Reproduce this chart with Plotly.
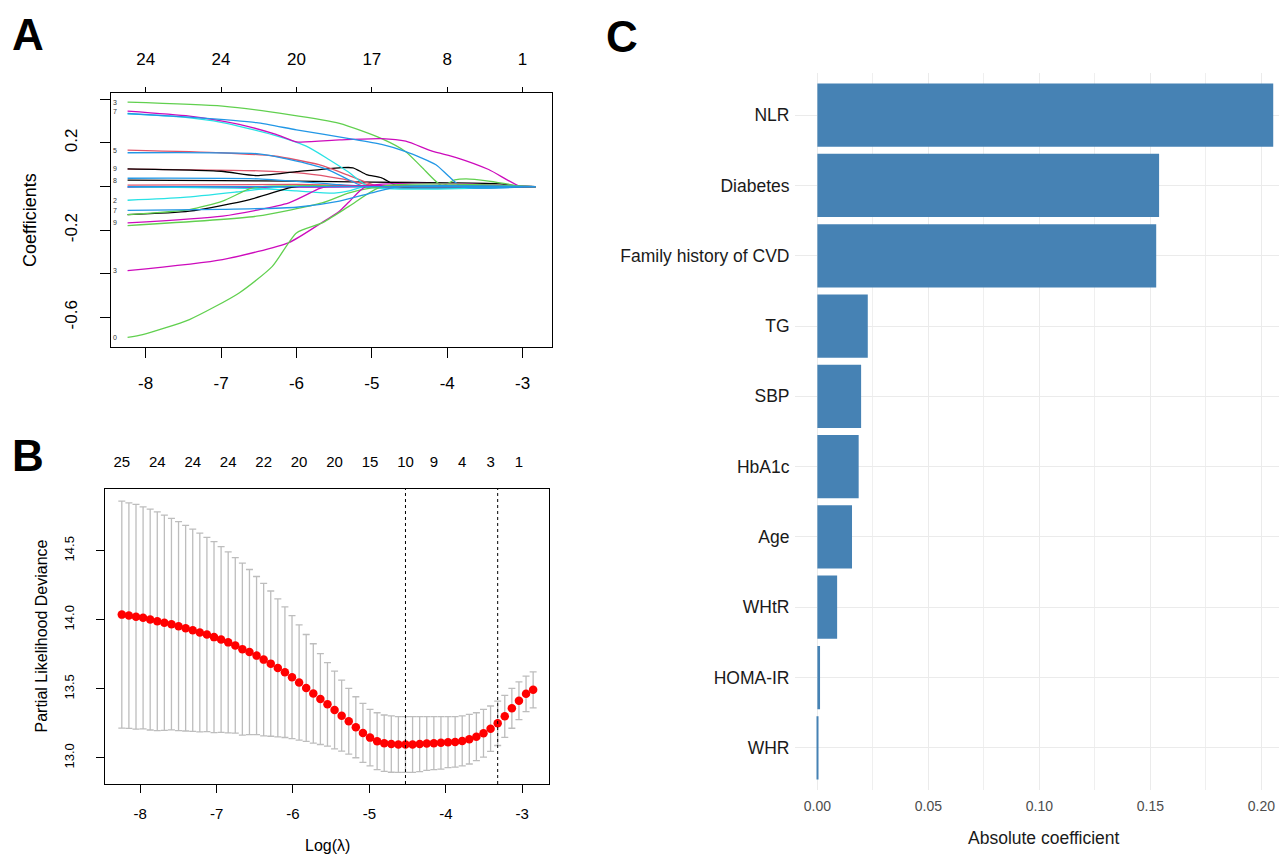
import plotly.graph_objects as go

PAGE_W, PAGE_H = 1287, 854
OFF = 8  # default body margin of the html page
W, H = PAGE_W - OFF, PAGE_H - OFF
FONT = "Liberation Sans, Arial, Helvetica, sans-serif"

# ---------------- Panel A: coefficient paths ----------------
A_TICKS = [-8, -7, -6, -5, -4, -3]
A_TICK_TEXT = ["-8", "-7", "-6", "-5", "-4", "-3"]
A_TOP_DF = ["24", "24", "20", "17", "8", "1"]
A_Y_TICKS = [0.4, 0.2, 0.0, -0.2, -0.4, -0.6]
A_Y_TEXT = ["", "0.2", "", "-0.2", "", "-0.6"]

R_BLACK, R_RED, R_GREEN, R_BLUE, R_CYAN, R_MAG = "#000000", "#DF536B", "#61D04F", "#2297E6", "#28E2E5", "#CD0BBC"

paths = [
    # (color, label, log-lambda points, coefficient values)
    (R_MAG, "", [-8.24, -5.5, -5.0, -2.83], [-0.004, -0.003, 0.0, 0.0]),
    (R_RED, "", [-8.24, -6.0, -5.2, -4.8, -2.83], [0.006, 0.010, 0.004, 0.0, 0.0]),
    (R_CYAN, "", [-8.24, -6.5, -6.0, -5.5, -5.3, -5.1, -2.83], [-0.002, -0.010, -0.020, -0.030, -0.020, 0.0, 0.0]),
    (R_BLACK, "8", [-8.24, -7.0, -6.0, -5.0, -4.0, -3.3, -3.03, -2.83], [0.029, 0.027, 0.025, 0.020, 0.017, 0.012, 0.0, 0.0]),
    (R_BLUE, "", [-8.24, -6.5, -5.5, -5.0, -2.83], [0.038, 0.035, 0.010, 0.0, 0.0]),
    (R_RED, "", [-8.24, -6.5, -5.9, -5.4, -4.9, -2.83], [0.080, 0.072, 0.060, 0.035, 0.0, 0.0]),
    (R_BLACK, "9", [-8.24, -7.0, -6.53, -6.0, -5.43, -5.25, -5.07, -4.87, -4.64, -2.83],
     [0.081, 0.070, 0.050, 0.068, 0.086, 0.086, 0.055, 0.040, 0.0, 0.0]),
    (R_RED, "5", [-8.24, -7.0, -6.3, -5.7, -5.3, -4.9, -2.83], [0.167, 0.155, 0.140, 0.100, 0.050, 0.0, 0.0]),
    (R_BLUE, "", [-8.24, -6.5, -6.1, -5.6, -5.3, -5.1, -2.83], [0.155, 0.150, 0.125, 0.080, 0.030, 0.0, 0.0]),
    (R_CYAN, "", [-8.24, -7.5, -6.98, -6.32, -5.87, -5.57, -5.30, -5.04, -2.83],
     [0.333, 0.318, 0.293, 0.238, 0.185, 0.124, 0.064, 0.0, 0.0]),
    (R_GREEN, "3", [-8.24, -6.98, -6.10, -5.43, -4.87, -4.55, -4.34, -4.07, -3.9, -3.75, -3.45, -3.1, -3.03, -2.83],
     [0.387, 0.369, 0.330, 0.290, 0.220, 0.160, 0.090, 0.004, 0.030, 0.035, 0.025, 0.005, 0.0, 0.0]),
    (R_MAG, "7", [-8.24, -7.42, -6.76, -6.27, -6.0, -5.43, -4.87, -4.55, -4.20, -3.88, -3.45, -3.03, -2.83],
     [0.346, 0.323, 0.285, 0.239, 0.205, 0.214, 0.220, 0.208, 0.162, 0.133, 0.078, 0.0, 0.0]),
    (R_BLUE, "", [-8.24, -7.42, -6.53, -6.0, -5.30, -4.87, -4.55, -4.15, -3.98, -3.81, -2.83],
     [0.335, 0.318, 0.293, 0.260, 0.220, 0.193, 0.160, 0.100, 0.047, 0.0, 0.0]),
    (R_CYAN, "2", [-8.24, -7.5, -6.8, -6.3, -6.1, -2.83], [-0.063, -0.050, -0.025, -0.005, 0.0, 0.0]),
    (R_BLACK, "", [-8.24, -7.42, -6.62, -6.1, -6.0, -2.83], [-0.129, -0.113, -0.060, -0.006, 0.0, 0.0]),
    (R_GREEN, "", [-8.24, -7.42, -6.98, -6.62, -6.45, -2.83], [-0.129, -0.106, -0.067, -0.010, 0.0, 0.0]),
    (R_MAG, "9", [-8.24, -6.98, -6.10, -5.7, -5.6, -2.83], [-0.167, -0.136, -0.075, -0.010, 0.0, 0.0]),
    (R_GREEN, "", [-8.24, -6.53, -5.66, -5.30, -4.87, -2.83], [-0.179, -0.136, -0.075, -0.029, 0.0, 0.0]),
    (R_MAG, "3", [-8.24, -6.98, -6.10, -5.67, -5.43, -5.3, -5.08, -2.83],
     [-0.386, -0.335, -0.257, -0.167, -0.113, -0.070, 0.0, 0.0]),
    (R_GREEN, "0", [-8.24, -8.04, -7.42, -6.76, -6.32, -6.0, -5.66, -5.30, -4.87, -2.83],
     [-0.692, -0.679, -0.610, -0.488, -0.366, -0.213, -0.167, -0.090, 0.0, 0.0]),
    (R_BLUE, "7", [-8.24, -7.0, -6.0, -5.43, -5.0, -4.64, -2.83], [-0.109, -0.105, -0.095, -0.067, -0.029, 0.0, 0.0]),
    (R_BLUE, "", [-8.24, -6.0, -4.6, -2.83], [0.0, 0.0, 0.0, 0.0]),
]

# ---------------- Panel B: cross-validation curve ----------------
B_LAMBDA_START = -8.24
B_LAMBDA_STEP = 0.0928
B_MEAN = [14.037, 14.030, 14.021, 14.014, 14.001, 13.989, 13.978, 13.968, 13.953, 13.939,
          13.924, 13.908, 13.893, 13.874, 13.857, 13.836, 13.814, 13.787, 13.766, 13.740,
          13.711, 13.682, 13.651, 13.620, 13.584, 13.545, 13.506, 13.466, 13.425, 13.387,
          13.346, 13.305, 13.264, 13.221, 13.180, 13.146, 13.120, 13.106, 13.099, 13.096,
          13.096, 13.096, 13.099, 13.103, 13.106, 13.108, 13.113, 13.115, 13.122, 13.135,
          13.153, 13.178, 13.211, 13.250, 13.300, 13.358, 13.413, 13.463, 13.492]
B_UPPER = [14.859, 14.847, 14.835, 14.818, 14.801, 14.782, 14.758, 14.734, 14.710, 14.684,
           14.657, 14.628, 14.597, 14.566, 14.530, 14.491, 14.450, 14.410, 14.364, 14.313,
           14.263, 14.208, 14.151, 14.093, 14.030, 13.962, 13.893, 13.826, 13.754, 13.689,
           13.627, 13.562, 13.502, 13.442, 13.394, 13.351, 13.326, 13.310, 13.303, 13.298,
           13.298, 13.298, 13.298, 13.298, 13.298, 13.298, 13.298, 13.298, 13.303, 13.315,
           13.326, 13.351, 13.375, 13.411, 13.452, 13.502, 13.550, 13.591, 13.622]
B_IDX_MIN = 40
B_IDX_1SE = 53
B_TOP_IDX = [0, 5, 10, 15, 20, 25, 30, 35, 40, 44, 48, 52, 56]
B_TOP_DF = ["25", "24", "24", "24", "22", "20", "20", "15", "10", "9", "4", "3", "1"]
B_Y_TICKS = [13.0, 13.5, 14.0, 14.5]
B_Y_TEXT = ["13.0", "13.5", "14.0", "14.5"]

B_LAMBDA = [B_LAMBDA_START + i * B_LAMBDA_STEP for i in range(len(B_MEAN))]
B_SE = [u - m for u, m in zip(B_UPPER, B_MEAN)]

# ---------------- Panel C: absolute coefficients ----------------
C_VARS = ["NLR", "Diabetes", "Family history of CVD", "TG", "SBP", "HbA1c", "Age", "WHtR", "HOMA-IR", "WHR"]
C_VALUES = [0.2053, 0.1539, 0.1526, 0.0227, 0.0197, 0.0186, 0.0156, 0.0089, 0.0012, 0.0001]
C_TICKS = [0.0, 0.05, 0.10, 0.15, 0.20]
C_TICK_TEXT = ["0.00", "0.05", "0.10", "0.15", "0.20"]


def px_x(p):
    return (p - OFF) / W


def px_y(p):
    return 1 - (p - OFF) / H


fig = go.Figure()

for color, label, lam, coef in paths:
    fig.add_trace(go.Scatter(x=lam, y=coef, mode="lines", xaxis="x", yaxis="y",
                             line=dict(color=color, width=1.3, shape="spline", smoothing=0.6),
                             hoverinfo="skip", showlegend=False))
    if label:
        fig.add_annotation(x=lam[0] - 0.17, y=coef[0], xref="x", yref="y", text=label,
                           xanchor="center", yanchor="middle",
                           showarrow=False, font=dict(family=FONT, size=7, color="#333333"))

# invisible trace for top axis of A
fig.add_trace(go.Scatter(x=A_TICKS, y=[0] * len(A_TICKS), xaxis="x3", yaxis="y", mode="markers",
                         marker=dict(opacity=0), hoverinfo="skip", showlegend=False))

# Panel B
fig.add_trace(go.Scatter(x=B_LAMBDA, y=B_MEAN, mode="markers", xaxis="x2", yaxis="y2",
                         marker=dict(color="#FF0000", size=8.5),
                         error_y=dict(type="data", array=B_SE, symmetric=True, color="#BDBDBD",
                                      thickness=1.3, width=3.5),
                         hoverinfo="skip", showlegend=False))
fig.add_trace(go.Scatter(x=[B_LAMBDA[i] for i in B_TOP_IDX], y=[B_MEAN[i] for i in B_TOP_IDX],
                         xaxis="x4", yaxis="y2", mode="markers", marker=dict(opacity=0),
                         hoverinfo="skip", showlegend=False))
for idx in (B_IDX_MIN, B_IDX_1SE):
    fig.add_shape(type="line", xref="x2", yref="y2 domain", x0=B_LAMBDA[idx], x1=B_LAMBDA[idx],
                  y0=0, y1=1, line=dict(color="black", width=1, dash="dot"))

# Panel C
fig.add_trace(go.Bar(x=C_VALUES, y=C_VARS, orientation="h", xaxis="x5", yaxis="y5",
                     marker=dict(color="#4682B4", line=dict(width=0)), width=0.9,
                     hoverinfo="skip", showlegend=False))

axis_common = dict(showgrid=False, zeroline=False, showline=True, linecolor="black", linewidth=1,
                   ticks="outside", tickcolor="black", tickwidth=1)

A_XRANGE = [-8.46, -2.61]
B_XRANGE = [-8.46, -2.65]

fig.update_layout(
    width=W, height=H,
    margin=dict(l=0, r=0, t=0, b=0),
    paper_bgcolor="white", plot_bgcolor="white",
    font=dict(family=FONT, color="black"),
    showlegend=False,
    xaxis=dict(domain=[px_x(111), px_x(552)], anchor="y", range=A_XRANGE, tickvals=A_TICKS,
               ticktext=A_TICK_TEXT, ticklen=10, ticklabelstandoff=11, mirror=True,
               tickfont=dict(size=17), **axis_common),
    yaxis=dict(domain=[px_y(347), px_y(93)], anchor="x", range=[-0.736, 0.429], tickvals=A_Y_TICKS,
               ticktext=A_Y_TEXT, ticklen=10, tickangle=-90, ticklabelstandoff=16, mirror=True,
               tickfont=dict(size=17), **axis_common),
    xaxis3=dict(overlaying="x", side="top", anchor="y", range=A_XRANGE, tickvals=A_TICKS,
                ticktext=A_TOP_DF, ticklen=5, ticklabelstandoff=15, tickfont=dict(size=17),
                showgrid=False, zeroline=False, showline=False, ticks="outside", tickcolor="black"),
    xaxis2=dict(domain=[px_x(105), px_x(549)], anchor="y2", range=B_XRANGE, tickvals=A_TICKS,
                ticktext=A_TICK_TEXT, ticklen=8, ticklabelstandoff=8, mirror=True,
                tickfont=dict(size=15), **axis_common),
    yaxis2=dict(domain=[px_y(784), px_y(489)], anchor="x2", range=[12.81, 14.947], tickvals=B_Y_TICKS,
                ticktext=B_Y_TEXT, ticklen=8, tickangle=-90, ticklabelstandoff=17, mirror=True,
                tickfont=dict(size=13), **axis_common),
    xaxis4=dict(overlaying="x2", side="top", anchor="y2", range=B_XRANGE,
                tickvals=[B_LAMBDA[i] for i in B_TOP_IDX], ticktext=B_TOP_DF, ticks="",
                ticklabelstandoff=18, tickfont=dict(size=15), showgrid=False, zeroline=False,
                showline=False),
    xaxis5=dict(domain=[px_x(794.5), 1.0], anchor="y5", range=[-0.0103, 0.2115], tickvals=C_TICKS,
                ticktext=C_TICK_TEXT, showgrid=True, gridcolor="#EBEBEB", gridwidth=1.1,
                minor=dict(dtick=0.025, tick0=0, showgrid=True, gridcolor="#EFEFEF", gridwidth=0.8),
                zeroline=False, showline=False, ticks="", ticklabelstandoff=6,
                tickfont=dict(size=14, color="#4D4D4D")),
    yaxis5=dict(domain=[px_y(790), px_y(73)], anchor="x5", type="category",
                categoryorder="array", categoryarray=C_VARS, range=[9.6, -0.6],
                showgrid=True, gridcolor="#EBEBEB", gridwidth=1.1, zeroline=False, showline=False,
                ticks="", ticklabelstandoff=4, tickfont=dict(size=17.5, color="#1A1A1A")),
)


def label(text, x, y, size, angle=0, color="black"):
    fig.add_annotation(x=px_x(x), y=px_y(y), xref="paper", yref="paper", text=text,
                       textangle=angle, showarrow=False, xanchor="center", yanchor="middle",
                       font=dict(size=size, color=color))


label("Coefficients", 30, (347 + 93) / 2, 18, -90)
label("Partial Likelihood Deviance", 41, (784 + 489) / 2, 16, -90)
label("Log(λ)", 327, 845, 16)
label("Absolute coefficient", 1044, 838, 17.5, 0, "#1A1A1A")
for letter, lx, ly in (("A", 28, 34), ("B", 28, 455), ("C", 622, 37)):
    label(f"<b>{letter}</b>", lx, ly, 44)

fig.write_html("out.html")
